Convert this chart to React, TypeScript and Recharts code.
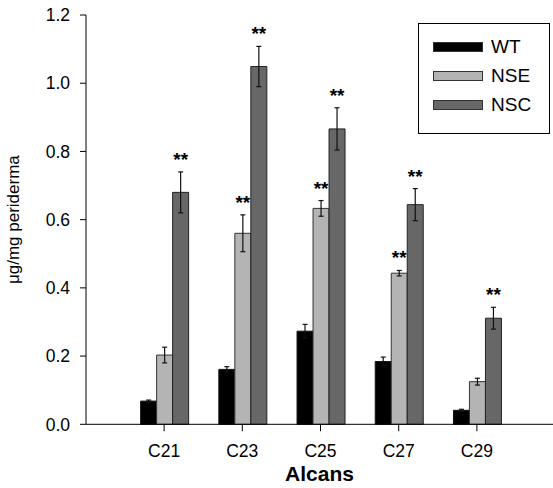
import { Bar, BarChart, ErrorBar, LabelList, XAxis, YAxis } from 'recharts'

const categories = ['C21', 'C23', 'C25', 'C27', 'C29']
const wt = [0.068, 0.161, 0.273, 0.184, 0.041]
const wtErr = [0.003, 0.008, 0.02, 0.013, 0.003]
const nse = [0.203, 0.56, 0.633, 0.443, 0.125]
const nseErr = [0.023, 0.054, 0.023, 0.008, 0.01]
const nsc = [0.68, 1.049, 0.866, 0.644, 0.311]
const nscErr = [0.06, 0.059, 0.062, 0.047, 0.032]
const nseStars = [false, true, true, true, false]
const nscStars = [true, true, true, true, true]
const yTicks = [0, 0.2, 0.4, 0.6, 0.8, 1.0, 1.2]

const series = [
  { key: 'wt', name: 'WT', color: '#000000' },
  { key: 'nse', name: 'NSE', color: '#b4b4b4' },
  { key: 'nsc', name: 'NSC', color: '#676767' },
]

const data = categories.map((name, i) => ({
  name,
  wt: wt[i],
  wtErr: wtErr[i],
  nse: nse[i],
  nseErr: nseErr[i],
  nsc: nsc[i],
  nscErr: nscErr[i],
}))

const font = 'Arial, "Liberation Sans", sans-serif'

function stars(errs: number[], flags: boolean[]) {
  return (props: any) => {
    const { x, y, width, height, value, index } = props
    if (!flags[index] || !value) return null
    const perUnit = height / value
    const top = y - errs[index] * perUnit
    return (
      <text
        x={x + width / 2}
        y={top - 6}
        textAnchor="middle"
        fontSize={19}
        fontWeight="bold"
        fontFamily={font}
        fill="#000"
      >
        **
      </text>
    )
  }
}

function Legend() {
  return (
    <div
      style={{
        position: 'absolute',
        left: 418,
        top: 23,
        width: 130,
        height: 109,
        border: '1px solid #000',
        background: '#fff',
        fontFamily: font,
        fontSize: 19,
      }}
    >
      {series.map((s, i) => (
        <div
          key={s.key}
          style={{
            position: 'absolute',
            left: 14,
            top: 12 + i * 29,
            height: 22,
            display: 'flex',
            alignItems: 'center',
          }}
        >
          <span
            style={{
              display: 'inline-block',
              width: 48,
              height: 8,
              background: s.color,
              border: '1px solid #333',
              marginRight: 8,
            }}
          />
          <span>{s.name}</span>
        </div>
      ))}
    </div>
  )
}

export default function App() {
  return (
    <div style={{ position: 'absolute', left: 0, top: 0, width: 553, height: 488, background: '#fff' }}>
      <BarChart
        width={553}
        height={488}
        data={data}
        margin={{ top: 15, right: 0, bottom: 0, left: 0 }}
        barCategoryGap="20%"
        barGap={0}
      >
        <XAxis
          dataKey="name"
          height={63.7}
          padding={{ left: 39, right: 37 }}
          tickSize={7}
          tickMargin={13}
          axisLine={{ stroke: '#000' }}
          tickLine={{ stroke: '#000' }}
          tick={{ fill: '#000', fontSize: 17.5, fontFamily: font }}
          label={(props: any) => {
            const vb = props.viewBox
            return (
              <text
                x={vb.x + vb.width / 2}
                y={vb.y + 57}
                textAnchor="middle"
                fontSize={21}
                fontWeight="bold"
                fontFamily={font}
                fill="#000"
              >
                Alcans
              </text>
            )
          }}
        />
        <YAxis
          width={86}
          domain={[0, 1.2]}
          ticks={yTicks}
          interval={0}
          tickSize={6}
          tickMargin={10}
          tickFormatter={(v: number) => v.toFixed(1)}
          axisLine={{ stroke: '#000' }}
          tickLine={{ stroke: '#000' }}
          tick={{ fill: '#000', fontSize: 17.5, fontFamily: font }}
          label={(props: any) => {
            const vb = props.viewBox
            const cy = vb.y + vb.height / 2
            return (
              <text
                x={19.5}
                y={cy}
                transform={`rotate(-90, 19.5, ${cy})`}
                textAnchor="middle"
                fontSize={17}
                fontFamily={font}
                fill="#000"
              >
                μg/mg periderma
              </text>
            )
          }}
        />
        <Bar dataKey="wt" fill={series[0].color} stroke="#111" strokeWidth={1} isAnimationActive={false}>
          <ErrorBar dataKey="wtErr" width={2.5} stroke="#111" strokeWidth={1.2} />
        </Bar>
        <Bar dataKey="nse" fill={series[1].color} stroke="#333" strokeWidth={1} isAnimationActive={false}>
          <ErrorBar dataKey="nseErr" width={2.5} stroke="#111" strokeWidth={1.2} />
          <LabelList dataKey="nse" content={stars(nseErr, nseStars)} />
        </Bar>
        <Bar dataKey="nsc" fill={series[2].color} stroke="#222" strokeWidth={1} isAnimationActive={false}>
          <ErrorBar dataKey="nscErr" width={2.5} stroke="#111" strokeWidth={1.2} />
          <LabelList dataKey="nsc" content={stars(nscErr, nscStars)} />
        </Bar>
      </BarChart>
      <Legend />
    </div>
  )
}
